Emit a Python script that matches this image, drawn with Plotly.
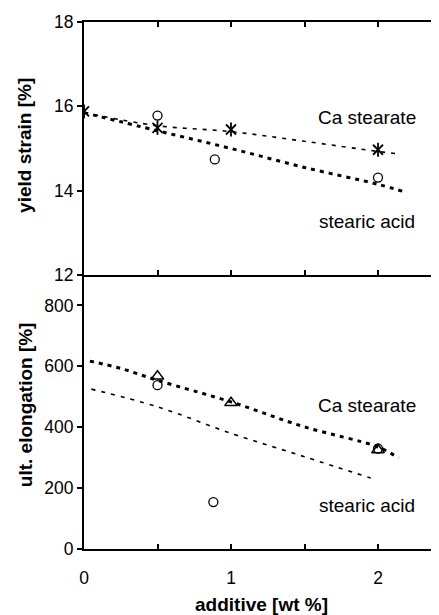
import plotly.graph_objects as go
from plotly.subplots import make_subplots

# ---- data: top panel (yield strain) ----
ys_ca_x = [0, 0.5, 1, 2]
ys_ca_y = [15.88, 15.49, 15.45, 14.97]
ys_sa_x = [0.5, 0.89, 2]
ys_sa_y = [15.78, 14.74, 14.31]
ys_ca_trend_x = [0, 0.5, 1, 1.5, 2, 2.14]
ys_ca_trend_y = [15.85, 15.54, 15.4, 15.17, 14.93, 14.87]
ys_sa_trend_x = [0, 0.5, 1, 1.5, 2, 2.19]
ys_sa_trend_y = [15.85, 15.42, 15.0, 14.55, 14.15, 13.96]

# ---- data: bottom panel (ultimate elongation) ----
ue_ca_x = [0.5, 1, 2]
ue_ca_y = [567, 480, 325]
ue_sa_x = [0.5, 0.88, 2]
ue_sa_y = [538, 154, 330]
ue_ca_trend_x = [0.04, 0.25, 0.5, 1, 1.5, 2, 2.14]
ue_ca_trend_y = [617, 593, 554, 483, 401, 335, 299]
ue_sa_trend_x = [0.05, 0.5, 1, 1.5, 1.95]
ue_sa_trend_y = [525, 467, 380, 303, 233]

x_tickvals = [0, 0.5, 1, 1.5, 2]
x_ticktext = ["0", "", "1", "", "2"]
ys_tickvals = [12, 14, 16, 18]
ue_tickvals = [0, 200, 400, 600, 800]

FONT = "Arial, Liberation Sans, sans-serif"

fig = make_subplots(rows=2, cols=1, shared_xaxes=True, vertical_spacing=0)

thick = dict(color="black", width=3, dash="4px,5px")
thin = dict(color="black", width=1.6, dash="4px,6px")

# top panel
fig.add_trace(go.Scatter(x=ys_ca_trend_x, y=ys_ca_trend_y, mode="lines",
                         line=dict(**thin, shape="spline")), row=1, col=1)
fig.add_trace(go.Scatter(x=ys_sa_trend_x, y=ys_sa_trend_y, mode="lines",
                         line=dict(**thick, shape="spline")), row=1, col=1)
# asterisk marker drawn as an x plus a vertical bar
for sym in ["x-thin-open", "line-ns-open"]:
    fig.add_trace(go.Scatter(x=ys_ca_x, y=ys_ca_y, mode="markers",
                             marker=dict(symbol=sym, size=10, color="black",
                                         line=dict(color="black", width=1.8))), row=1, col=1)
fig.add_trace(go.Scatter(x=ys_sa_x, y=ys_sa_y, mode="markers",
                         marker=dict(symbol="circle-open", size=9, color="black",
                                     line=dict(color="black", width=1.3))), row=1, col=1)

# bottom panel
fig.add_trace(go.Scatter(x=ue_ca_trend_x, y=ue_ca_trend_y, mode="lines",
                         line=dict(**thick, shape="spline")), row=2, col=1)
fig.add_trace(go.Scatter(x=ue_sa_trend_x, y=ue_sa_trend_y, mode="lines",
                         line=dict(**thin, shape="spline")), row=2, col=1)
fig.add_trace(go.Scatter(x=ue_ca_x, y=ue_ca_y, mode="markers",
                         marker=dict(symbol="triangle-up-open", size=11, color="black",
                                     line=dict(color="black", width=1.5))), row=2, col=1)
fig.add_trace(go.Scatter(x=ue_sa_x, y=ue_sa_y, mode="markers",
                         marker=dict(symbol="circle-open", size=9, color="black",
                                     line=dict(color="black", width=1.3))), row=2, col=1)

axis_common = dict(showline=True, linecolor="black", linewidth=2, showgrid=False,
                   zeroline=False, tickcolor="black", automargin=False,
                   tickfont=dict(family=FONT, size=17.5, color="black"))

fig.update_xaxes(**axis_common, range=[0, 2.415], tickvals=x_tickvals,
                 ticktext=x_ticktext, ticks="inside", ticklen=5, tickwidth=1.5)
fig.update_xaxes(showticklabels=False, mirror="ticks", row=1, col=1)
fig.update_xaxes(showticklabels=True, ticklabelstandoff=12, row=2, col=1)

fig.update_yaxes(**axis_common, ticks="outside", ticklen=5, tickwidth=1.5)
fig.update_yaxes(range=[12, 18], tickvals=ys_tickvals, row=1, col=1)
fig.update_yaxes(range=[0, 900], tickvals=ue_tickvals, row=2, col=1)

fig.update_layout(
    width=439, height=615,
    margin=dict(l=76, r=8, t=14, b=74),
    plot_bgcolor="white", paper_bgcolor="white",
    showlegend=False,
    yaxis=dict(domain=[0.52, 1]),
    yaxis2=dict(domain=[0, 0.52]),
    font=dict(family=FONT, size=16, color="black"),
)

ann_font = dict(family=FONT, size=19, color="black")
title_font = dict(family=FONT, size=19, color="black")
annotations = [
    dict(x=1.925, y=15.73, xref="x", yref="y", text="Ca stearate", showarrow=False, font=ann_font),
    dict(x=1.925, y=13.27, xref="x", yref="y", text="stearic acid", showarrow=False, font=ann_font),
    dict(x=1.925, y=472, xref="x2", yref="y2", text="Ca stearate", showarrow=False, font=ann_font),
    dict(x=1.925, y=144, xref="x2", yref="y2", text="stearic acid", showarrow=False, font=ann_font),
    dict(x=-0.166, y=0.765, xref="paper", yref="paper", text="<b>yield strain [%]</b>",
         textangle=-90, showarrow=False, font=title_font, xanchor="center", yanchor="middle"),
    dict(x=-0.166, y=0.273, xref="paper", yref="paper", text="<b>ult. elongation [%]</b>",
         textangle=-90, showarrow=False, font=title_font, xanchor="center", yanchor="middle"),
    dict(x=0.501, y=-0.106, xref="paper", yref="paper", text="<b>additive [wt %]</b>",
         showarrow=False, font=title_font, xanchor="center", yanchor="middle"),
]
fig.update_layout(annotations=annotations)

fig.write_html("out.html")
